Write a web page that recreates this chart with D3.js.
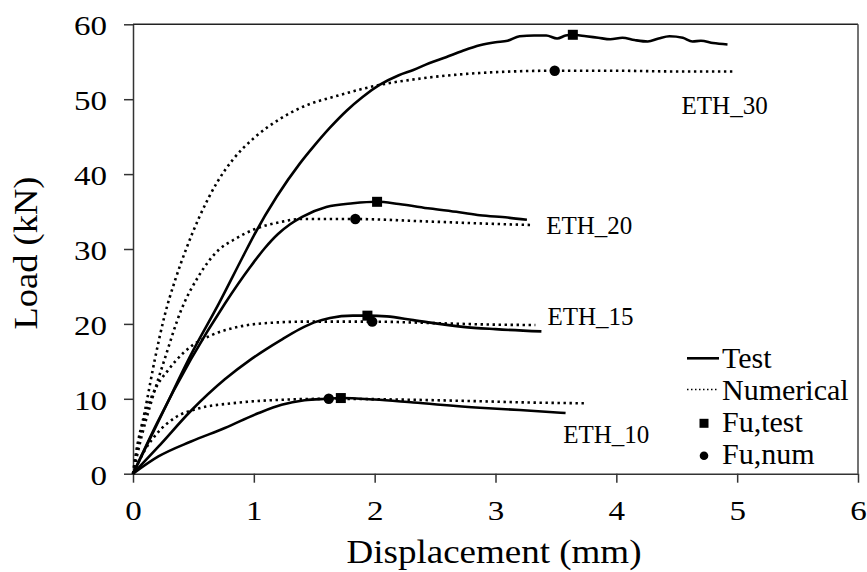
<!DOCTYPE html>
<html>
<head>
<meta charset="utf-8">
<script src="https://cdn.jsdelivr.net/npm/d3@7"></script>
<style>
  html, body { margin: 0; padding: 0; background: #fff; }
  svg { display: block; font-family: "Liberation Serif", "Times New Roman", Tinos, serif; }
</style>
</head>
<body>
<svg id="chart" width="867" height="572"></svg>
<script>
// ---------- data (displacement mm, load kN) ----------
const xTicks = [0, 1, 2, 3, 4, 5, 6];
const yTicks = [0, 10, 20, 30, 40, 50, 60];

const eth30Test = [[0,0],[0.25,8.3],[0.48,15.9],[0.71,22.7],[0.91,29.0],[1.0,31.8],[1.19,37.0],[1.38,41.4],[1.49,43.6],[1.63,46.2],[1.77,48.5],[1.9,50.3],[2.04,51.9],[2.2,53.2],[2.32,53.9],[2.45,54.8],[2.59,55.6],[2.72,56.4],[2.87,57.2],[3.0,57.6],[3.1,57.8],[3.2,58.4],[3.32,58.5],[3.42,58.5],[3.51,58.1],[3.58,58.5],[3.64,58.6],[3.75,58.4],[3.85,58.2],[3.95,58.0],[4.05,58.2],[4.15,57.9],[4.26,57.7],[4.35,58.1],[4.44,58.4],[4.55,58.2],[4.63,57.7],[4.7,57.8],[4.8,57.5],[4.92,57.3]];
const eth20Test = [[0,0],[0.2,6.8],[0.48,15.3],[0.76,22.7],[0.97,27.6],[1.09,30.1],[1.2,32.0],[1.3,33.3],[1.4,34.3],[1.6,35.6],[1.82,36.1],[2.02,36.3],[2.2,36.0],[2.46,35.4],[2.7,34.9],[2.87,34.5],[3.1,34.2],[3.26,33.9]];
const eth15Test = [[0,0],[0.21,3.6],[0.48,8.4],[0.76,12.6],[0.97,15.2],[1.1,16.6],[1.22,17.8],[1.38,19.3],[1.5,20.2],[1.63,20.8],[1.82,21.1],[1.94,21.1],[2.1,21.0],[2.32,20.5],[2.73,19.6],[3.0,19.3],[3.38,19.0]];
const eth10Test = [[0,0],[0.21,2.3],[0.48,4.3],[0.76,6.1],[1.04,8.1],[1.23,9.2],[1.42,9.8],[1.6,10.0],[1.72,10.1],[2.0,9.9],[2.32,9.5],[2.87,8.8],[3.2,8.5],[3.58,8.1]];

const eth30Num = [[0,0],[0.02,2.3],[0.1,8.5],[0.18,15.2],[0.26,21.0],[0.35,25.9],[0.44,30.0],[0.55,34.3],[0.7,39.0],[0.83,42.0],[1.0,44.8],[1.22,47.4],[1.38,48.8],[1.7,50.5],[2.04,51.9],[2.4,52.8],[2.87,53.5],[3.49,53.8],[4.0,53.8],[4.5,53.7],[4.98,53.7]];
const eth20Num = [[0,0],[0.07,4.9],[0.155,9.8],[0.26,15.2],[0.4,21.9],[0.54,26.3],[0.71,29.9],[0.83,31.2],[1.0,32.6],[1.22,33.6],[1.38,34.0],[1.84,34.0],[2.4,33.7],[2.9,33.4],[3.31,33.2]];
const eth15Num = [[0,0],[0.05,4.5],[0.12,8.8],[0.2,11.8],[0.28,13.6],[0.35,15.0],[0.48,17.0],[0.65,18.5],[0.9,19.7],[1.2,20.2],[1.42,20.3],[1.98,20.3],[2.5,20.1],[3.0,19.9],[3.33,19.85]];
const eth10Num = [[0,0],[0.1,3.2],[0.2,5.4],[0.35,7.5],[0.54,8.7],[0.82,9.4],[1.2,9.85],[1.62,10.0],[2.2,9.9],[2.8,9.7],[3.3,9.5],[3.74,9.4]];

const fuTest = [[3.64,58.6],[2.02,36.3],[1.94,21.1],[1.72,10.1]];
const fuNum  = [[3.49,53.8],[1.84,34.0],[1.98,20.3],[1.62,10.0]];

const specimenLabels = ["ETH_30", "ETH_20", "ETH_15", "ETH_10"];
const legendLabels = ["Test", "Numerical", "Fu,test", "Fu,num"];

// ---------- layout ----------
const FONT = '"Liberation Serif", "Times New Roman", Tinos, serif';
const svg = d3.select("#chart");
const M = { left: 133, right: 858, top: 24.3, bottom: 473.7 };
const x = d3.scaleLinear().domain([0, 6]).range([M.left, M.right]);
const y = d3.scaleLinear().domain([0, 60]).range([M.bottom, M.top]);

// frame (top & right)
svg.append("line").attr("x1", M.left).attr("x2", M.right).attr("y1", M.top).attr("y2", M.top)
  .attr("stroke", "#222").attr("stroke-width", 1.5);
svg.append("line").attr("x1", M.right).attr("x2", M.right).attr("y1", M.top).attr("y2", M.bottom)
  .attr("stroke", "#444").attr("stroke-width", 1.5);

// axes
const fmt = d3.format("d");
const yAxis = svg.append("g").attr("transform", `translate(${M.left},0)`)
  .call(d3.axisLeft(y).tickValues(yTicks).tickFormat(fmt).tickSize(9).tickSizeOuter(0).tickPadding(17));
const xAxis = svg.append("g").attr("transform", `translate(0,${M.bottom})`)
  .call(d3.axisBottom(x).tickValues(xTicks).tickFormat(fmt).tickSize(9).tickSizeOuter(0).tickPadding(18));
[yAxis, xAxis].forEach(g => {
  g.attr("font-family", FONT);
  g.select(".domain").attr("stroke", "#333").attr("stroke-width", 1.5);
  g.selectAll(".tick line").attr("stroke", "#333").attr("stroke-width", 1.5);
  g.selectAll(".tick text").attr("fill", "#000").attr("font-size", 27);
});
yAxis.selectAll(".tick text").attr("textLength", d => fmt(d).length * 16.5)
  .attr("lengthAdjust", "spacingAndGlyphs").attr("dy", "0.39em");
xAxis.selectAll(".tick text").attr("textLength", d => fmt(d).length * 16.5)
  .attr("lengthAdjust", "spacingAndGlyphs").attr("dy", "0.71em");

// axis titles
svg.append("text").attr("x", 494).attr("y", 563).attr("text-anchor", "middle")
  .attr("font-size", 33).attr("textLength", 295).attr("lengthAdjust", "spacingAndGlyphs")
  .text("Displacement (mm)");
svg.append("text").attr("transform", "translate(37,253) rotate(-90)").attr("text-anchor", "middle")
  .attr("font-size", 33).attr("textLength", 153).attr("lengthAdjust", "spacingAndGlyphs")
  .text("Load (kN)");

// curves
const line = d3.line().x(d => x(d[0])).y(d => y(d[1])).curve(d3.curveMonotoneX);

[eth30Num, eth20Num, eth15Num, eth10Num].forEach(s => {
  svg.append("path").attr("d", line(s)).attr("fill", "none").attr("stroke", "#000")
    .attr("stroke-width", 2.6).attr("stroke-dasharray", "2.4,3.6");
});
[eth30Test, eth20Test, eth15Test, eth10Test].forEach(s => {
  svg.append("path").attr("d", line(s)).attr("fill", "none").attr("stroke", "#000")
    .attr("stroke-width", 2.6).attr("stroke-linejoin", "round");
});

// markers
svg.selectAll("rect.fu").data(fuTest).join("rect").attr("class", "fu")
  .attr("x", d => x(d[0]) - 5).attr("y", d => y(d[1]) - 5).attr("width", 10).attr("height", 10)
  .attr("fill", "#000");
svg.selectAll("circle.fn").data(fuNum).join("circle").attr("class", "fn")
  .attr("cx", d => x(d[0])).attr("cy", d => y(d[1])).attr("r", 5.2).attr("fill", "#000");

// specimen labels (anchor in data space)
const labelAnchors = [[4.54, 48.0], [3.42, 32.0], [3.43, 19.85], [3.56, 4.06]];
specimenLabels.forEach((t, i) => {
  svg.append("text").attr("x", x(labelAnchors[i][0])).attr("y", y(labelAnchors[i][1]))
    .attr("font-size", 25).text(t);
});

// legend
const lgX = 687, lgTextX = 722, lgY0 = 367.5, lgDy = 32;
legendLabels.forEach((t, i) => {
  svg.append("text").attr("x", lgTextX).attr("y", lgY0 + i * lgDy).attr("font-size", 30).text(t);
});
svg.append("line").attr("x1", lgX).attr("x2", lgX + 32).attr("y1", 358.3).attr("y2", 358.3)
  .attr("stroke", "#000").attr("stroke-width", 2.6);
svg.append("line").attr("x1", lgX).attr("x2", lgX + 32).attr("y1", 389.5).attr("y2", 389.5)
  .attr("stroke", "#000").attr("stroke-width", 1.4).attr("stroke-dasharray", "1.5,2.5");
svg.append("rect").attr("x", 704 - 4.5).attr("y", 423.3 - 4.5).attr("width", 9).attr("height", 9).attr("fill", "#000");
svg.append("circle").attr("cx", 704).attr("cy", 455.7).attr("r", 4.3).attr("fill", "#000");
</script>
</body>
</html>
